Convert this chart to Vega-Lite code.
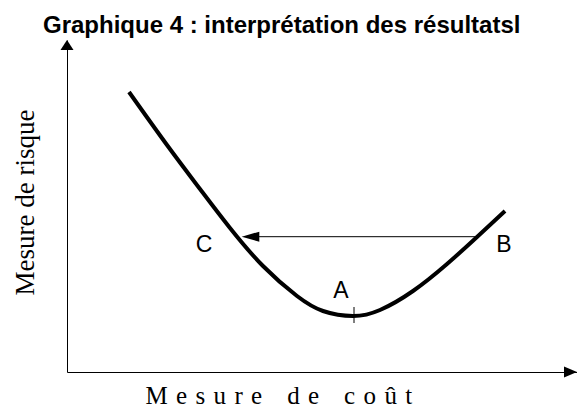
{
  "$schema": "https://vega.github.io/schema/vega-lite/v6.json",
  "width": 510,
  "height": 332,
  "autosize": {"type": "none"},
  "padding": {"left": 67, "top": 40, "right": 0, "bottom": 35},
  "background": "white",
  "title": {
    "text": "Graphique 4 : interprétation des résultatsl",
    "font": "Liberation Sans",
    "fontSize": 24,
    "fontWeight": "bold",
    "color": "black",
    "anchor": "start",
    "frame": "group",
    "dx": -24,
    "dy": 26,
    "offset": 9,
    "baseline": "alphabetic"
  },
  "config": {"view": {"stroke": null}},
  "datasets": {
    "curve": [
      {"cost": 62, "risk": 280},
      {"cost": 100, "risk": 227},
      {"cost": 133, "risk": 183},
      {"cost": 163, "risk": 144},
      {"cost": 196, "risk": 106},
      {"cost": 230, "risk": 76},
      {"cost": 256, "risk": 61},
      {"cost": 286, "risk": 56},
      {"cost": 313, "risk": 62},
      {"cost": 346, "risk": 81},
      {"cost": 380, "risk": 108},
      {"cost": 410, "risk": 135},
      {"cost": 438, "risk": 161}
    ],
    "labels": [
      {"label": "C", "cost": 137, "risk": 120.3},
      {"label": "B", "cost": 437, "risk": 120.3},
      {"label": "A", "cost": 274, "risk": 73.7}
    ],
    "anchor": [{}]
  },
  "layer": [
    {
      "data": {"name": "curve"},
      "mark": {"type": "line", "interpolate": "natural", "color": "black", "strokeWidth": 4},
      "encoding": {
        "x": {
          "field": "cost",
          "type": "quantitative",
          "scale": {"domain": [0, 510], "nice": false, "zero": false},
          "axis": {
            "title": "M\u2004e\u2004s\u2004u\u2004r\u2004e\u2004\u2004\u2004d\u2004e\u2004\u2004\u2004c\u2004o\u2004û\u2004t",
            "ticks": false,
            "labels": false,
            "grid": false,
            "domainColor": "black",
            "domainWidth": 1,
            "titleFont": "Liberation Serif",
            "titleFontSize": 25,
            "titleFontWeight": "normal",
            "titleColor": "black",
            "titleAnchor": "start",
            "titleAlign": "left",
            "titleX": 78,
            "titleY": 31,
            "titleBaseline": "alphabetic"
          }
        },
        "y": {
          "field": "risk",
          "type": "quantitative",
          "scale": {"domain": [0, 332], "nice": false, "zero": false},
          "axis": {
            "title": "Mesure de risque",
            "ticks": false,
            "labels": false,
            "grid": false,
            "domainColor": "black",
            "domainWidth": 1,
            "titleFont": "Liberation Serif",
            "titleFontSize": 27,
            "titleFontWeight": "normal",
            "titleColor": "black",
            "titleAngle": 270,
            "titleAlign": "center",
            "titleX": -34,
            "titleY": 162,
            "titleBaseline": "alphabetic"
          }
        }
      }
    },
    {
      "data": {"name": "anchor"},
      "mark": {"type": "rule", "color": "black", "strokeWidth": 1},
      "encoding": {
        "x": {"datum": 185},
        "x2": {"datum": 410},
        "y": {"datum": 135.3}
      }
    },
    {
      "data": {"name": "anchor"},
      "mark": {"type": "point", "shape": "M-1,0L1,-0.57L1,0.57Z", "filled": true, "color": "black", "size": 310, "opacity": 1, "strokeWidth": 0},
      "encoding": {"x": {"datum": 183.5}, "y": {"datum": 135.3}}
    },
    {
      "data": {"name": "anchor"},
      "mark": {"type": "point", "shape": "M0,-1L1.3,1L-1.3,1Z", "filled": true, "color": "black", "size": 100, "opacity": 1, "strokeWidth": 0},
      "encoding": {"x": {"datum": 0}, "y": {"datum": 327}}
    },
    {
      "data": {"name": "anchor"},
      "mark": {"type": "point", "shape": "M1,0L-1,-0.85L-1,0.85Z", "filled": true, "color": "black", "size": 169, "opacity": 1, "strokeWidth": 0},
      "encoding": {"x": {"datum": 503.5}, "y": {"datum": 0}}
    },
    {
      "data": {"name": "anchor"},
      "mark": {"type": "point", "shape": "M0,-1L0,1M-0.75,0L0.75,0", "filled": false, "color": "black", "strokeWidth": 1, "size": 256, "opacity": 1},
      "encoding": {"x": {"datum": 287}, "y": {"datum": 57}}
    },
    {
      "data": {"name": "labels"},
      "mark": {"type": "text", "font": "Liberation Sans", "fontSize": 23, "color": "black", "align": "center", "baseline": "alphabetic"},
      "encoding": {
        "x": {"field": "cost", "type": "quantitative"},
        "y": {"field": "risk", "type": "quantitative"},
        "text": {"field": "label"}
      }
    }
  ]
}
